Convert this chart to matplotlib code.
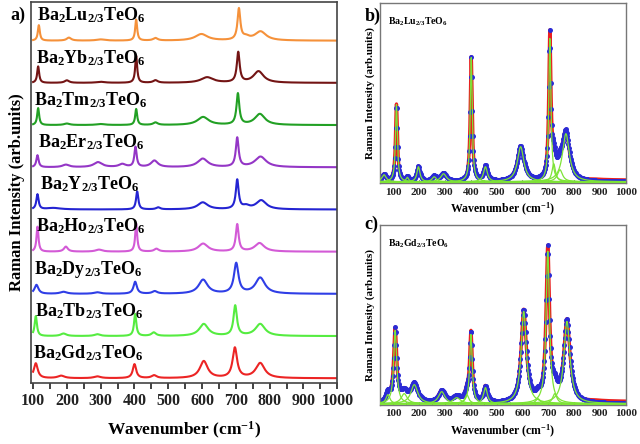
import numpy as np
import matplotlib
matplotlib.use("Agg")
import matplotlib.pyplot as plt
from matplotlib.ticker import MultipleLocator

plt.rcParams["font.family"] = "Liberation Serif"
plt.rcParams["font.weight"] = "bold"
plt.rcParams["mathtext.fontset"] = "custom"
plt.rcParams["mathtext.rm"] = "Liberation Serif:bold"
plt.rcParams["mathtext.it"] = "Liberation Serif:bold"
plt.rcParams["mathtext.bf"] = "Liberation Serif:bold"

# panel a) compounds, bottom to top
compounds = ["Gd", "Tb", "Dy", "Ho", "Y", "Er", "Tm", "Yb", "Lu"]
colors = ["#ec2424", "#55ec40", "#2f3ee6", "#d35ad6", "#2424d2",
          "#9436c6", "#22a024", "#731414", "#f5913a"]
label_x = [101, 107, 104, 110, 120, 116, 104, 110, 113]

# peak centres (cm-1), heights (arb.) and half widths (cm-1)
peaks_a = {
    "Gd": ([108, 183, 290, 400, 458, 605, 697, 772],
           [15, 2.5, 1.8, 14, 2.8, 17, 30, 15],
           [7, 12, 12, 6, 9, 14, 8, 16]),
    "Tb": ([108, 190, 290, 402, 457, 605, 698, 772],
           [20, 2.5, 1.8, 22, 3.5, 12, 30, 12],
           [4, 10, 10, 4, 8, 16, 6, 17]),
    "Dy": ([110, 190, 290, 402, 460, 603, 701, 772],
           [9, 2, 1.5, 12, 2.5, 14, 30, 16],
           [7, 12, 12, 6, 9, 16, 8, 17]),
    "Ho": ([113, 197, 295, 405, 465, 603, 704, 770],
           [25, 5, 2, 28, 2.8, 8, 27, 8.5],
           [3.5, 7, 12, 3.5, 8, 17, 5, 17]),
    "Y": ([113, 160, 408, 470, 602, 704, 730, 775],
          [15, 1.5, 18, 2, 7, 29, 3, 9],
          [4, 25, 4, 7, 18, 5, 12, 18]),
    "Er": ([113, 197, 292, 364, 403, 459, 602, 704, 773],
           [12, 2.5, 5, 3, 20, 6.5, 8.5, 29, 10.5],
           [4, 12, 15, 12, 4, 12, 18, 5, 20]),
    "Tm": ([115, 200, 300, 405, 462, 603, 706, 771],
           [17, 1.5, 1, 16, 2.5, 8, 31, 11],
           [3.5, 10, 15, 3.5, 8, 20, 5, 18]),
    "Yb": ([115, 200, 300, 405, 462, 615, 707, 767],
           [16.5, 2.5, 1, 27, 2.5, 5.5, 30, 11.5],
           [3.5, 8, 15, 3.5, 8, 22, 5, 18]),
    "Lu": ([117, 206, 300, 405, 462, 598, 709, 730, 773],
           [15.5, 3, 1.2, 21, 2.5, 6.5, 31, 3, 9],
           [3.5, 8, 15, 3.5, 8, 22, 5, 12, 20]),
}

# panel b) Ba2Lu2/3TeO6 fitted components
b_pos = [65, 113, 155, 198, 259, 295, 402, 457, 593, 706, 721, 745, 768]
b_height = [7, 77, 4.5, 15, 5, 8, 124, 15, 35, 143, 18, 12, 48]
b_width = [10, 4.5, 6, 7, 10, 13, 4.5, 9, 15, 5, 8, 12, 16]

# panel c) Ba2Gd2/3TeO6 fitted components
c_pos = [80, 108, 143, 182, 288, 346, 385, 401, 457, 605, 660, 698, 725, 772]
c_height = [9, 73, 10, 19, 12, 6, 9, 69, 16, 92, 5, 152, 10, 82]
c_width = [9, 7, 14, 16, 15, 18, 9, 6, 9, 12, 10, 8, 10, 14]


def lorentz(x, x0, h, w):
    return h * w ** 2 / ((x - x0) ** 2 + w ** 2)


fig = plt.figure(figsize=(6.4, 4.44), dpi=100)

# ---- panel a ----
ax = fig.add_axes([0.048, 0.1374, 0.479, 0.8581])
xa = np.arange(100, 1001, 1.0)
step = 42.2
for i, name in enumerate(compounds):
    pos, hts, wds = peaks_a[name]
    y = sum(lorentz(xa, p, h, w) for p, h, w in zip(pos, hts, wds))
    ax.plot(xa, y + i * step, color=colors[i], lw=1.5)
    ax.text(label_x[i], i * step + 20, "Ba$_2$%s$_{2/3}$TeO$_6$" % name,
            fontsize=13, fontweight="bold", va="baseline", ha="left")
ax.set_xlim(93, 1000)
ax.set_ylim(-4.7, 8 * step + 38.7)
ax.set_yticks([])
ax.xaxis.set_major_locator(MultipleLocator(100))
ax.xaxis.set_minor_locator(MultipleLocator(50))
ax.tick_params(axis="x", which="both", direction="out", length=4, width=1.2,
               labelsize=11.5, colors="#222222", pad=3)
for lab in ax.get_xticklabels():
    lab.set_fontweight("bold")
for s in ax.spines.values():
    s.set_color("#444444")
    s.set_linewidth(1.2)
ax.set_xlabel("Wavenumber (cm$^{-1}$)", fontsize=12.5, fontweight="bold", labelpad=8)
ax.set_ylabel("Raman Intensity (arb.units)", fontsize=12, fontweight="bold", labelpad=4)
fig.text(0.016, 0.955, "a)", fontsize=13, fontweight="bold")


def fit_panel(rect, pos, hts, wds, title, tag, tag_y, tail):
    axf = fig.add_axes(rect)
    xf = np.arange(50, 1001, 1.0)
    comps = [lorentz(xf, p, h, w) for p, h, w in zip(pos, hts, wds)]
    total = sum(comps)
    red = total + tail * np.clip((xf - 820) / 60, 0, 1)
    axf.plot(xf, red, color="#e82020", lw=2.4, zorder=1)
    axf.plot(xf[::2], total[::2], "o", color="#2b2bd6", ms=3.6, mew=0, zorder=2)
    for c in comps:
        axf.plot(xf, c, color="#7ee336", lw=0.9, zorder=3)
    axf.set_xlim(50, 1000)
    axf.set_ylim(-1.6, 178.4)
    axf.set_yticks([])
    axf.xaxis.set_major_locator(MultipleLocator(100))
    axf.xaxis.set_minor_locator(MultipleLocator(50))
    axf.tick_params(axis="x", which="both", direction="in", length=2.5,
                    labelsize=8, colors="#222222", pad=3)
    for lab in axf.get_xticklabels():
        lab.set_fontweight("bold")
    for s in axf.spines.values():
        s.set_color("#777777")
        s.set_linewidth(1.0)
    axf.set_xlabel("Wavenumber (cm$^{-1}$)", fontsize=8.5, fontweight="bold", labelpad=3)
    axf.set_ylabel("Raman Intensity (arb.units)", fontsize=8, fontweight="bold", labelpad=4)
    axf.text(0.03, 0.93, title, transform=axf.transAxes, fontsize=7,
             fontweight="bold", va="top")
    fig.text(0.570, tag_y, tag, fontsize=13, fontweight="bold")
    return axf


fit_panel([0.594, 0.587, 0.384, 0.406], b_pos, b_height, b_width,
          "Ba$_2$Lu$_{2/3}$TeO$_6$", "b)", 0.952, 1.5)
fit_panel([0.594, 0.0872, 0.384, 0.4068], c_pos, c_height, c_width,
          "Ba$_2$Gd$_{2/3}$TeO$_6$", "c)", 0.485, 2.0)

fig.savefig("out.png", dpi=100)
